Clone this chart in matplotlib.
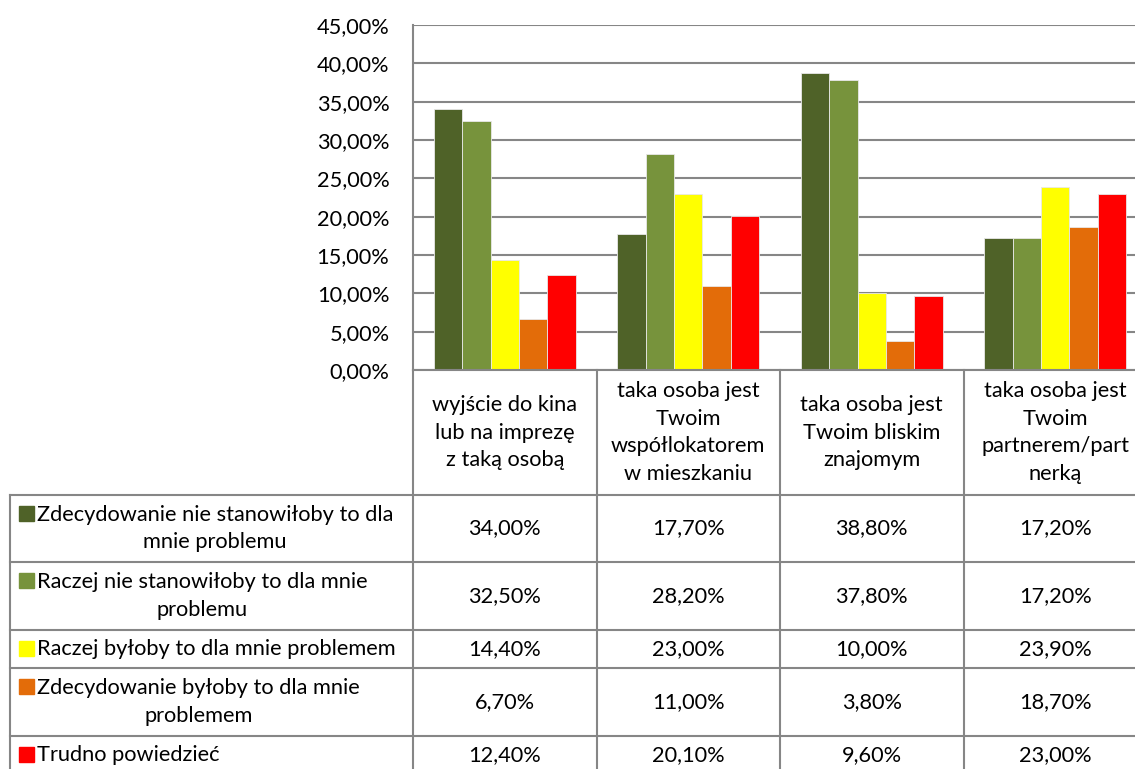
import matplotlib
matplotlib.use("Agg")
import matplotlib.pyplot as plt
import numpy as np
from matplotlib.lines import Line2D
from matplotlib.patches import Rectangle
from matplotlib.ticker import FuncFormatter

categories = [
    "wyjście do kina\nlub na imprezę\nz taką osobą",
    "taka osoba jest\nTwoim\nwspółlokatorem\nw mieszkaniu",
    "taka osoba jest\nTwoim bliskim\nznajomym",
    "taka osoba jest\nTwoim\npartnerem/part\nnerką",
]
series_names = [
    "Zdecydowanie nie stanowiłoby to dla\nmnie problemu",
    "Raczej nie stanowiłoby to dla mnie\nproblemu",
    "Raczej byłoby to dla mnie problemem",
    "Zdecydowanie byłoby to dla mnie\nproblemem",
    "Trudno powiedzieć",
]
zdec_nie = [34.0, 17.7, 38.8, 17.2]
raczej_nie = [32.5, 28.2, 37.8, 17.2]
raczej_tak = [14.4, 23.0, 10.0, 23.9]
zdec_tak = [6.7, 11.0, 3.8, 18.7]
trudno = [12.4, 20.1, 9.6, 23.0]
series = [zdec_nie, raczej_nie, raczej_tak, zdec_tak, trudno]
colors = ["#4F6228", "#77933C", "#FFFF00", "#E36C09", "#FF0000"]

W, H = 1135, 769
plt.rcParams['font.family'] = ['Lato', 'DejaVu Sans']
FS = 15.7
LS = 1.49
LINE_PX = 29.5
GRID = "#868686"


def fx(px):
    return px / W


def fy(py):
    return 1 - py / H


fig = plt.figure(figsize=(W / 100, H / 100), dpi=100)

# plot area: x from 413 px, one category = 183.5 px
left, top, bottom, right = 413, 25, 370, 1135
col_w = 183.5
ax = fig.add_axes([fx(left), fy(bottom), fx(right) - fx(left), fy(top) - fy(bottom)])
ax.set_xlim(-0.5, -0.5 + (right - left) / col_w)
ax.set_ylim(0, 45)

x = np.arange(len(categories))
bw = 0.155
for i, (vals, c) in enumerate(zip(series, colors)):
    ax.bar(x + (i - 2) * bw, vals, width=bw, color=c, edgecolor="#e8e8e8",
           linewidth=0.6, zorder=3)

ax.set_yticks(np.arange(0, 46, 5))
ax.yaxis.set_major_formatter(FuncFormatter(lambda v, p: f"{v:.2f}%".replace(".", ",")))
ax.tick_params(axis="y", length=0, pad=17, labelsize=FS)
ax.set_xticks([])
ax.grid(axis="y", color=GRID, linewidth=1.5, zorder=0)
for s in ["top", "right", "bottom"]:
    ax.spines[s].set_visible(False)
ax.spines["left"].set_color(GRID)
ax.spines["left"].set_linewidth(1.5)

# data table below the plot
col_edges = [left + k * col_w for k in range(len(categories) + 1)]
row_edges = [495, 562, 630, 668, 736, 774]
tab_left = 10

def hline(py, x0, x1):
    fig.add_artist(Line2D([fx(x0), fx(x1)], [fy(py), fy(py)], color=GRID, lw=1.5))


def vline(px, y0, y1):
    fig.add_artist(Line2D([fx(px), fx(px)], [fy(y0), fy(y1)], color=GRID, lw=1.5))


hline(bottom, left, W)
for ry in row_edges[:-1]:
    hline(ry, tab_left, W)
vline(tab_left, row_edges[0], H + 5)
for cx in col_edges:
    vline(cx, bottom, H + 5)

for j, cat in enumerate(categories):
    cx = (col_edges[j] + col_edges[j + 1]) / 2
    fig.text(fx(cx), fy((bottom + row_edges[0]) / 2), cat, ha="center", va="center",
             fontsize=FS, linespacing=LS, multialignment="center")

for i, (name, vals, c) in enumerate(zip(series_names, series, colors)):
    y0, y1 = row_edges[i], row_edges[i + 1]
    cy = (y0 + y1) / 2
    nlines = name.count("\n") + 1
    fig.text(fx(37), fy(cy), name, ha="left", va="center", fontsize=FS,
             linespacing=LS, multialignment="center")
    first_y = cy - (nlines - 1) * 0.5 * LINE_PX
    fig.add_artist(Rectangle((fx(19), fy(first_y + 7)), fx(15), fy(0) - fy(15),
                             transform=fig.transFigure, color=c))
    for j, v in enumerate(vals):
        cx = (col_edges[j] + col_edges[j + 1]) / 2
        fig.text(fx(cx), fy(cy), f"{v:.2f}%".replace(".", ","), ha="center",
                 va="center", fontsize=FS)

fig.savefig("out.png", dpi=100)
